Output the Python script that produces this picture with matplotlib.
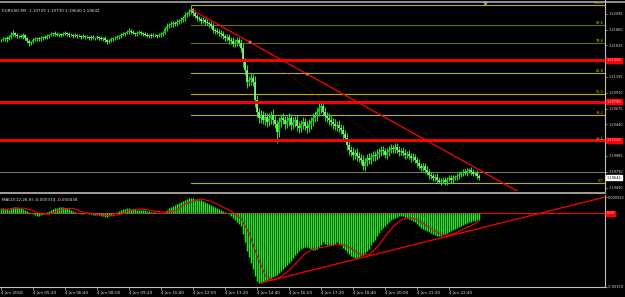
import matplotlib
matplotlib.use("Agg")
import matplotlib.pyplot as plt
from matplotlib.lines import Line2D
import matplotlib.transforms as mtrans
import numpy as np

# ---------------- data ----------------
symbol_title = "EURUSD,M5  1.19729 1.19730 1.19640 1.19642"
macd_title = "MACD(12,26,9) -0.000374 -0.000438"

PRICE_BASE = 1.19
# M5 closes, in points (1e-5) above 1.19000
close_pts = [2705, 2720, 2735, 2720, 2750, 2780, 2810, 2780, 2765, 2765,
             2750, 2780, 2735, 2690, 2660, 2675, 2705, 2720, 2735, 2720,
             2735, 2750, 2735, 2765, 2780, 2795, 2810, 2795, 2780, 2795,
             2780, 2795, 2810, 2795, 2780, 2780, 2765, 2780, 2765, 2765,
             2750, 2765, 2750, 2750, 2735, 2750, 2735, 2735, 2750, 2735,
             2720, 2735, 2705, 2675, 2690, 2720, 2735, 2735, 2750, 2765,
             2780, 2795, 2810, 2825, 2840, 2825, 2810, 2795, 2810, 2825,
             2810, 2795, 2780, 2765, 2780, 2765, 2780, 2780, 2765, 2780,
             2795, 2810, 2870, 2915, 2930, 2945, 2960, 2945, 2975, 2990,
             3005, 3035, 3080, 3095, 3125, 3155, 3110, 3065, 3035, 3020,
             2990, 3005, 2975, 2960, 2945, 2915, 2855, 2840, 2825, 2810,
             2795, 2765, 2735, 2750, 2705, 2690, 2645, 2675, 2705, 2660,
             2585, 2375, 2255, 2075, 2105, 2135, 2075, 1805, 1625, 1535,
             1580, 1505, 1550, 1475, 1535, 1580, 1505, 1445, 1325, 1475,
             1535, 1505, 1445, 1490, 1535, 1430, 1475, 1505, 1415, 1385,
             1445, 1475, 1415, 1385, 1445, 1490, 1535, 1565, 1625, 1685,
             1715, 1625, 1565, 1535, 1505, 1475, 1445, 1415, 1430, 1385,
             1355, 1295, 1235, 1130, 1055, 1025, 980, 1010, 965, 935,
             905, 815, 875, 935, 905, 950, 980, 965, 995, 1025,
             1055, 1040, 980, 1025, 1055, 1085, 1070, 1100, 1055, 1025,
             1040, 1010, 980, 995, 965, 935, 950, 905, 860, 815,
             785, 815, 755, 725, 680, 665, 635, 650, 605, 575,
             590, 605, 575, 620, 635, 605, 635, 650, 665, 680,
             710, 725, 710, 740, 755, 725, 695, 710, 665, 642]
# upper / lower wick beyond the body, in points
up_wick = [20, 35, 15, 30, 25, 40, 45, 20, 30, 15,
           25, 30, 20, 15, 35, 20, 25, 30, 15, 20,
           30, 20, 25, 35, 15, 30, 20, 25, 30, 20,
           15, 25, 30, 20, 35, 25, 15, 30, 20, 25,
           20, 30, 15, 25, 20, 35, 25, 15, 30, 20,
           25, 20, 30, 15, 25, 35, 20, 30, 25, 15,
           30, 25, 20, 35, 40, 25, 30, 20, 25, 30,
           20, 15, 30, 25, 20, 30, 25, 15, 20, 25,
           30, 25, 35, 40, 30, 45, 35, 30, 40, 35,
           40, 35, 45, 30, 40, 50, 30, 40, 35, 30,
           35, 40, 30, 45, 35, 40, 50, 35, 40, 45,
           40, 45, 35, 50, 40, 45, 55, 40, 45, 50,
           60, 70, 55, 80, 65, 75, 60, 90, 70, 65,
           70, 60, 80, 65, 75, 60, 85, 70, 60, 75,
           65, 75, 60, 80, 70, 65, 75, 60, 80, 70,
           60, 75, 65, 70, 80, 65, 70, 75, 60, 80,
           75, 65, 70, 60, 80, 70, 65, 75, 60, 70,
           65, 70, 60, 75, 70, 65, 80, 60, 70, 65,
           60, 70, 65, 55, 70, 60, 65, 55, 70, 60,
           55, 60, 50, 65, 55, 60, 50, 65, 55, 60,
           50, 55, 60, 45, 55, 50, 60, 45, 50, 55,
           45, 50, 40, 55, 45, 50, 40, 45, 55, 40,
           40, 45, 50, 35, 45, 40, 50, 35, 45, 40,
           35, 45, 40, 50, 35, 40, 45, 35, 40, 30]
lo_wick = [30, 15, 25, 40, 20, 30, 15, 35, 25, 30,
           20, 25, 35, 30, 40, 25, 20, 15, 30, 25,
           25, 35, 20, 15, 30, 20, 35, 25, 15, 30,
           30, 20, 15, 35, 25, 20, 30, 15, 35, 20,
           25, 15, 35, 20, 30, 25, 15, 35, 20, 30,
           20, 30, 25, 35, 15, 20, 35, 25, 15, 30,
           25, 20, 35, 15, 25, 30, 20, 35, 25, 15,
           30, 25, 15, 20, 35, 25, 15, 30, 25, 20,
           25, 30, 20, 35, 25, 30, 40, 25, 30, 35,
           35, 30, 40, 35, 30, 25, 45, 35, 40, 30,
           40, 35, 45, 30, 40, 35, 45, 40, 35, 50,
           45, 40, 50, 45, 55, 40, 50, 45, 55, 50,
           55, 80, 70, 90, 60, 75, 65, 95, 70, 80,
           75, 65, 80, 70, 60, 85, 70, 65, 75, 70,
           70, 65, 80, 60, 75, 70, 65, 80, 70, 75,
           65, 70, 60, 75, 65, 80, 70, 60, 75, 65,
           70, 60, 75, 65, 70, 60, 80, 65, 75, 60,
           65, 75, 60, 80, 70, 65, 75, 60, 70, 65,
           60, 55, 70, 60, 55, 65, 60, 70, 55, 60,
           55, 60, 50, 55, 65, 50, 60, 55, 50, 60,
           50, 45, 55, 50, 45, 55, 50, 45, 55, 50,
           45, 50, 40, 45, 55, 40, 50, 45, 40, 15,
           40, 35, 45, 40, 35, 45, 40, 35, 45, 40,
           35, 40, 30, 45, 35, 40, 30, 35, 40, 30]
# notable wicks (absolute, points)
hi_idx = [6, 64, 95, 159, 195]
hi_pts = [2855, 2885, 3230, 1760, 1115]
lo_idx = [14, 127, 138, 181, 219]
lo_pts = [2630, 1700, 1160, 755, 560]

# MACD main (histogram), units of 1e-5
hist_e5 = [29, 29, 23, 23, 17,
           29, 35, 35, 35, 29, 29, 23, 17,
           12, 6, 0, -6, -12, -17, -17, -12, -6, 0, 6,
           12, 17, 23, 29, 29, 35, 35, 35, 29, 29, 23, 17, 12,
           6, 0, 0, -6, -6, 0, 0, -6, -6, -12, -12, -12, -12,
           -17, -17, -23, -23, -17, -12,
           -6, 0, 6, 12, 17,
           23, 23, 29, 29, 23, 23,
           23, 17, 17, 17, 17, 17, 12, 12, 6, 6,
           6, 0, 0, 0, 0, 6, 17,
           29, 35, 40, 46, 52, 58, 63, 69, 75, 81, 86, 86,
           86, 81, 81, 75, 75, 69, 63, 58, 52, 46,
           40, 35, 29, 23, 17, 12, 6, 0, -6, -17,
           -29, -40, -52, -63, -75,
           -121, -167, -213, -248, -282, -317, -357, -386,
           -397, -397, -392, -386,
           -380, -374, -369, -363, -357, -351, -340, -328, -317, -305, -294, -282, -271,
           -253, -236, -225, -213, -202, -196,
           -190, -190, -196, -202, -207,
           -207, -202, -190, -179, -167, -173,
           -179, -184, -184, -179, -173, -167, -173, -184,
           -196, -207, -219, -230, -242, -248, -253, -253, -248, -242, -236,
           -225, -213, -202, -184, -167, -150, -132, -115, -98,
           -86, -75, -63, -52, -40, -35, -29, -23, -17, -17,
           -17, -23, -29, -35, -40, -46, -52, -63,
           -75, -86, -92, -98, -104, -109, -115, -121, -127, -132,
           -132, -132, -127, -121, -115, -109, -104,
           -98, -92, -86, -81, -75, -69, -63, -58,
           -52, -52, -46, -46, -40, -37]
# MACD signal, read every 4 bars, units of 1e-5
sig_idx = list(range(0, 237, 4)) + [239]
sig_e5 = [17, 25, 29, 28, 14, -3, -6, 11, 27, 27,
          12, 0, -7, -13, -15, -5, 15, 23, 22, 13,
          7, 7, 19, 52, 68, 81, 71, 52, 29, 4,
          -31, -112, -241, -351, -382, -361, -326, -279, -230, -202,
          -196, -188, -176, -183, -207, -238, -236, -195, -134, -77,
          -39, -25, -36, -65, -96, -119, -125, -109, -86, -65, -44]

time_labels = ["4 Jun 2018", "4 Jun 05:20", "4 Jun 06:40", "4 Jun 08:00", "4 Jun 09:20",
               "4 Jun 10:40", "4 Jun 12:00", "4 Jun 13:20", "4 Jun 14:40", "4 Jun 16:00",
               "4 Jun 17:20", "4 Jun 18:40", "4 Jun 20:00", "4 Jun 21:20", "4 Jun 22:40"]
time_label_bars = [0, 16, 32, 48, 64, 80, 96, 112, 128, 144, 160, 176, 192, 208, 224]

price_ticks = [1.22095, 1.21860, 1.21625, 1.21155, 1.20910, 1.20675, 1.20440,
               1.19965, 1.19730, 1.19490]
price_tick_labels = ["1.22095", "1.21860", "1.21625", "1.21155", "1.20910", "1.20675",
                     "1.20440", "1.19965", "1.19730", "1.19490"]
red_levels = [1.21400, 1.20780, 1.20200]
red_level_labels = ["1.21400", "1.20780", "1.20200"]
grey_level = 1.19730
bid_price = 1.19642
bid_label = "1.19642"

fib_high, fib_low = 1.22230, 1.19560
fib_start_bar, fib_low_bar = 95, 219
fib_levels = [100.0, 88.6, 78.6, 61.8, 50.0, 38.2, 23.6, 0.0]
fib_colors = ["#b4b400", "#6e6e00", "#6e6e00", "#b4b400", "#b4b400", "#b4b400", "#b4b400", "#b4b400"]

trend_bars = [95.5, 262.0]
trend_prices = [1.22155, 1.19375]
trend_mark_bars = [95.5, 124.5, 153.0]
trend_mark_prices = [1.22155, 1.21670, 1.21195]

macd_tl_bars = [130, 302]
macd_tl_vals = [-0.00397, 0.00092]
macd_tick_labels = ["0.000922", "-0.00159"]

# ---------------- figure ----------------
W, H = 625, 297
fig = plt.figure(figsize=(W / 100, H / 100), dpi=100, facecolor="black")
plt.rcParams["font.family"] = ["DejaVu Sans"]
FS = 3.0      # titles / time labels
FSR = 2.55    # right-hand price scale
AXC = "#c0c0c0"
TXC = "#e0e0e0"

def fx(px):
    return px / W

def fy(py):
    return 1 - py / H

ax = fig.add_axes([0, fy(191), fx(605), (191 - 5) / H], facecolor="black")
ax2 = fig.add_axes([0, fy(287), fx(605), (287 - 195) / H], facecolor="black")

XMIN, XMAX = -0.5, 302.0
YTOP, YBOT = 1.22230, 1.19440
ax.set_xlim(XMIN, XMAX)
ax.set_ylim(YBOT, YTOP)

closes = PRICE_BASE + np.array(close_pts) / 1e5
opens = np.r_[closes[0], closes[:-1]]
highs = np.maximum(opens, closes) + np.array(up_wick) / 1e5
lows = np.minimum(opens, closes) - np.array(lo_wick) / 1e5
for i, p in zip(hi_idx, hi_pts):
    highs[i] = max(highs[i], PRICE_BASE + p / 1e5)
for i, p in zip(lo_idx, lo_pts):
    lows[i] = min(lows[i], PRICE_BASE + p / 1e5)
highs = np.minimum(highs, fib_high)
bars = np.arange(len(closes))

# fib
for lvl, col in zip(fib_levels, fib_colors):
    pr = fib_low + lvl / 100 * (fib_high - fib_low)
    ax.plot([fib_start_bar, XMAX], [pr, pr], color=col, lw=0.8, zorder=1, clip_on=False)
    ax.text(XMAX - 0.8, pr, f"{lvl:.1f}", color="#c8c800", fontsize=FSR, ha="right",
            va="bottom", zorder=5, clip_on=False)
ax.plot([fib_start_bar, fib_low_bar], [fib_high, fib_low], color="#a00000", lw=0.6,
        ls=(0, (1, 2)), zorder=2)

# grey level
ax.axhline(grey_level, color="#808080", lw=0.7, zorder=1)

# candles
ax.vlines(bars, lows, highs, color="#00ff00", lw=0.7, zorder=3)
bull = closes >= opens
body_lo = np.minimum(opens, closes)
body_hi = np.maximum(opens, closes) + 0.00003
ax.vlines(bars[bull], body_lo[bull], body_hi[bull], color="#00e000", lw=1.25, zorder=3)
ax.vlines(bars[~bull], body_lo[~bull], body_hi[~bull], color="#8cf58c", lw=1.25, zorder=3)

# red horizontal levels
for lv in red_levels:
    ax.axhline(lv, color="#ff0000", lw=2.1, zorder=4)

# trend line
ax.plot(trend_bars, trend_prices, color="#ff0000", lw=0.9, zorder=4)
ax.plot(trend_mark_bars, trend_mark_prices, ls="none", marker="s", ms=1.6, mfc="#ff0000",
        mec="#ffffff", mew=0.3, zorder=5)

# axis styling main
ax.yaxis.tick_right()
ax.set_yticks(price_ticks)
ax.set_yticklabels(price_tick_labels)
ax.tick_params(axis="y", colors=AXC, labelcolor=TXC, labelsize=FSR, length=1.5, width=0.5, pad=0.8)
ax.set_xticks([])
for s in ["top", "left", "bottom"]:
    ax.spines[s].set_visible(False)
ax.spines["right"].set_color(AXC)
ax.spines["right"].set_linewidth(0.8)

blend = mtrans.blended_transform_factory(ax.transAxes, ax.transData)
for lv, lab in zip(red_levels, red_level_labels):
    ax.text(1.003, lv, lab, transform=blend, fontsize=FSR, color="#ffd0d0", ha="left",
            va="center", clip_on=False, zorder=6,
            bbox=dict(boxstyle="square,pad=0.15", fc="#ff0000", ec="#ff0000"))
ax.text(1.003, bid_price, bid_label, transform=blend, fontsize=FSR, color="black", ha="left",
        va="center", clip_on=False, zorder=6,
        bbox=dict(boxstyle="square,pad=0.15", fc="white", ec="white"))

ax.text(0.003, 1 - 6 / 186, symbol_title, transform=ax.transAxes, fontsize=FS,
        color=TXC, ha="left", va="center", zorder=7)

# ---------------- MACD ----------------
MTOP, MBOT = 0.001037, -0.004207
ax2.set_xlim(XMIN, XMAX)
ax2.set_ylim(MBOT, MTOP)
ax2.axhline(0, color="#ff0000", lw=0.8, zorder=0.5)
hist = np.array(hist_e5) * 1e-5
ax2.vlines(np.arange(len(hist)), 0, hist, color="#00ff00", lw=1.0, zorder=2)
ax2.plot(sig_idx, np.array(sig_e5) * 1e-5, color="#ff0000", lw=0.8, zorder=3)
ax2.plot(macd_tl_bars, macd_tl_vals, color="#ff0000", lw=0.9, zorder=4, clip_on=False)

ax2.yaxis.tick_right()
ax2.set_yticks([0.000922, MBOT])
ax2.set_yticklabels(macd_tick_labels)
ax2.tick_params(axis="y", colors=AXC, labelcolor=TXC, labelsize=FSR, length=1.2, width=0.5, pad=0.5)
ax2.set_xticks(time_label_bars)
ax2.set_xticklabels(time_labels)
for t in ax2.get_xticklabels():
    t.set_ha("left")
ax2.tick_params(axis="x", colors=AXC, labelcolor=TXC, labelsize=FS, length=2, width=0.5, pad=1)
for s in ["top", "left"]:
    ax2.spines[s].set_visible(False)
for s in ["right", "bottom"]:
    ax2.spines[s].set_color(AXC)
    ax2.spines[s].set_linewidth(0.8)
blend2 = mtrans.blended_transform_factory(ax2.transAxes, ax2.transData)
ax2.text(1.003, 0.0, "0.00", transform=blend2, fontsize=FSR, color="#ffd0d0", ha="left",
         va="center", clip_on=False, zorder=6,
         bbox=dict(boxstyle="square,pad=0.15", fc="#ff0000", ec="#ff0000"))
ax2.text(0.003, 1 - 5 / 92, macd_title, transform=ax2.transAxes, fontsize=FS,
         color=TXC, ha="left", va="center", zorder=7)

# separators
fig.add_artist(Line2D([0, 1], [fy(1.5), fy(1.5)], color="#909090", lw=1.4))
fig.add_artist(Line2D([0, fx(605)], [fy(193), fy(193)], color="#a0a0a0", lw=1.4))
fig.add_artist(Line2D([fx(605), fx(605)], [fy(0), fy(5)], color=AXC, lw=0.8))
fig.add_artist(Line2D([fx(485)], [fy(3)], marker="v", ms=2.5, color="#a0a0a0", ls="none"))

fig.savefig("out.png", dpi=100, facecolor="black")
